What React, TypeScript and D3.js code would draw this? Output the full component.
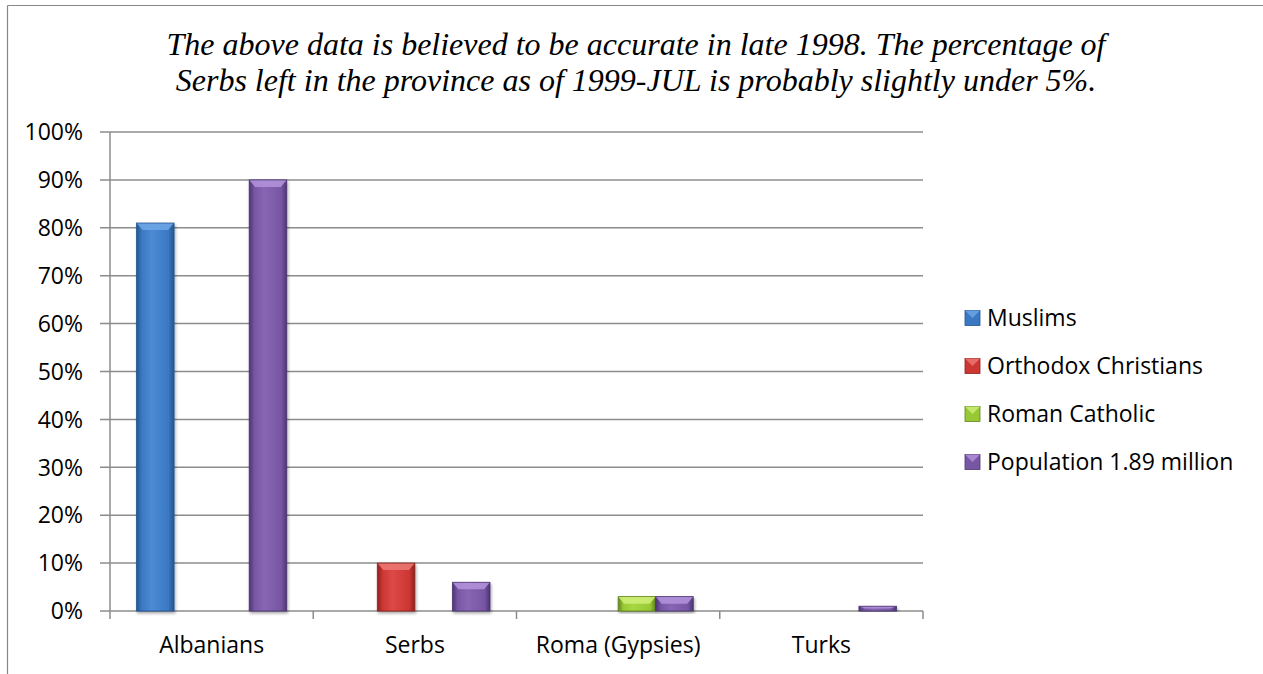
import React from "react";
import * as d3 from "d3";

// chart data
const categories = ["Albanians", "Serbs", "Roma (Gypsies)", "Turks"];
const seriesNames = ["Muslims", "Orthodox Christians", "Roman Catholic", "Population 1.89 million"];
const muslims = [81, 0, 0, 0];
const orthodox = [0, 10, 0, 0];
const catholic = [0, 0, 3, 0];
const population = [90, 6, 3, 1];
const yTicks = [0, 10, 20, 30, 40, 50, 60, 70, 80, 90, 100];
const titleLines = [
  "The above data is believed to be accurate in late 1998. The percentage of",
  "Serbs left in the province as of 1999-JUL is probably slightly under 5%.",
];

const seriesValues = [muslims, orthodox, catholic, population];

// light / mid / dark per series
const palette = [
  { light: "#4d8ad4", mid: "#3a78c4", dark: "#24558f", top: "#6fa8e8" },
  { light: "#dc4a46", mid: "#cc3633", dark: "#8e2220", top: "#ec7a76" },
  { light: "#a8d840", mid: "#98c834", dark: "#62851c", top: "#d0f07a" },
  { light: "#8866b4", mid: "#7756a4", dark: "#4c3572", top: "#b494dc" },
];

const W = 1263, H = 674;
const left = 110, right = 923, top = 132, bottom = 611;

const x0 = d3.scaleBand<string>().domain(categories).range([left, right]).padding(0);
const groupPad = 26.5;
const x1 = d3.scaleBand<string>().domain(seriesNames)
  .range([groupPad, x0.bandwidth() - groupPad]).padding(0);
const y = d3.scaleLinear().domain([0, 100]).range([bottom, top]);

const fmt = (d: number) => d + "%";

function Bar({ x, yTop, w, h, s }: { x: number; yTop: number; w: number; h: number; s: number }) {
  const b = Math.min(7, h / 2);
  const side = Math.min(6, w / 4);
  const c = palette[s];
  return (
    <g filter="url(#shadow)">
      <rect x={x} y={yTop} width={w} height={h} fill={`url(#grad${s})`} />
      <polygon
        points={`${x},${yTop} ${x + w},${yTop} ${x + w - side},${yTop + b} ${x + side},${yTop + b}`}
        fill={c.top}
        opacity={0.85}
      />
      <rect x={x} y={yTop} width={w} height={h} fill="none" stroke={c.dark} strokeWidth={0.8} />
    </g>
  );
}

export default function App() {
  const textFont = "'Open Sans', Lato, sans-serif";
  const fs = 23;
  return (
    <div style={{ position: "fixed", left: 0, top: 0 }}>
      <svg width={W} height={H} style={{ display: "block", background: "#fff" }}>
        <defs>
          {palette.map((c, i) => (
            <linearGradient key={i} id={`grad${i}`} x1="0" x2="1" y1="0" y2="0">
              <stop offset="0%" stopColor={c.dark} />
              <stop offset="14%" stopColor={c.mid} />
              <stop offset="40%" stopColor={c.light} />
              <stop offset="85%" stopColor={c.mid} />
              <stop offset="100%" stopColor={c.dark} />
            </linearGradient>
          ))}
          <filter id="shadow" x="-20%" y="-20%" width="140%" height="140%">
            <feDropShadow dx="1" dy="2" stdDeviation="1.5" floodColor="#000" floodOpacity="0.35" />
          </filter>
        </defs>

        {/* outer frame (only top and left visible) */}
        <line x1={7.5} x2={W + 10} y1={5.5} y2={5.5} stroke="#888" strokeWidth={1.2} />
        <line x1={7.5} x2={7.5} y1={5.5} y2={H + 10} stroke="#888" strokeWidth={1.2} />

        {/* title */}
        {titleLines.map((t, i) => (
          <text
            key={i}
            x={636}
            y={55 + i * 36}
            textAnchor="middle"
            fontFamily="'Liberation Serif', 'Times New Roman', serif"
            fontStyle="italic"
            fontSize={32}
            fill="#000"
          >
            {t}
          </text>
        ))}

        {/* gridlines + y labels */}
        {yTicks.map((t) => (
          <g key={t}>
            <line x1={left - 10} x2={right} y1={y(t)} y2={y(t)} stroke="#8c8c8c" strokeWidth={1.5} />
            <text
              x={83}
              y={y(t)}
              dy="0.36em"
              textAnchor="end"
              fontFamily={textFont}
              fontSize={fs}
              fill="#000"
            >
              {fmt(t)}
            </text>
          </g>
        ))}

        {/* y axis */}
        <line x1={left} x2={left} y1={top} y2={bottom} stroke="#8c8c8c" strokeWidth={1.5} />

        {/* x ticks */}
        {[...categories.map((c) => x0(c)!), right].map((v, i) => (
          <line key={i} x1={v} x2={v} y1={bottom} y2={bottom + 8} stroke="#8c8c8c" strokeWidth={1.5} />
        ))}

        {/* bars */}
        {categories.map((cat, ci) => (
          <g key={cat} transform={`translate(${x0(cat)},0)`}>
            {seriesNames.map((sn, si) => {
              const v = seriesValues[si][ci];
              if (!v) return null;
              const yt = y(v);
              return <Bar key={sn} x={x1(sn)!} yTop={yt} w={x1.bandwidth()} h={bottom - yt} s={si} />;
            })}
          </g>
        ))}

        {/* category labels */}
        {categories.map((cat) => (
          <text
            key={cat}
            x={x0(cat)! + x0.bandwidth() / 2}
            y={653}
            textAnchor="middle"
            fontFamily={textFont}
            fontSize={fs}
            fill="#000"
          >
            {cat}
          </text>
        ))}

        {/* legend */}
        {seriesNames.map((sn, i) => {
          const cy = 318 + i * 48;
          const c = palette[i];
          return (
            <g key={sn}>
              <rect x={965} y={cy - 7.5} width={15} height={15} fill={c.mid} stroke={c.dark} strokeWidth={0.8} />
              <polygon
                points={`${965},${cy - 7.5} ${980},${cy - 7.5} ${972.5},${cy}`}
                fill={c.top}
                opacity={0.8}
              />
              <text x={987} y={cy} dy="0.36em" fontFamily={textFont} fontSize={fs} fill="#000">
                {sn}
              </text>
            </g>
          );
        })}
      </svg>
    </div>
  );
}
